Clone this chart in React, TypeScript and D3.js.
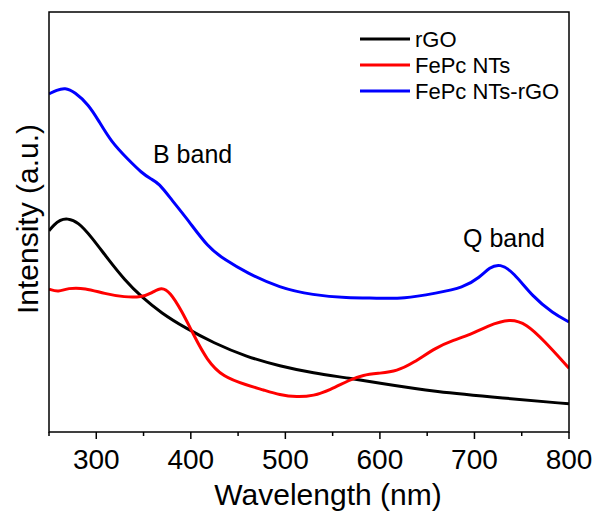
import React from "react";
import * as d3 from "d3";

// wavelength (nm) / intensity (a.u.)
const rgoWl = [250, 255, 262, 269, 281, 295, 313, 330, 348, 369, 394, 424, 459, 494, 530, 565, 597, 660, 730, 800];
const rgoI = [47.9, 49.3, 50.5, 50.9, 50.0, 46.4, 41.0, 36.2, 32.1, 28.3, 24.8, 21.2, 17.9, 15.7, 14.0, 12.9, 11.7, 9.5, 8.1, 6.7];

const fepcWl = [250, 260, 270, 288, 309, 330, 348, 359, 369, 378, 390, 403, 417, 434, 459, 477, 494, 512, 530, 547, 568, 582, 600, 618, 635, 660, 678, 695, 713, 738, 755, 773, 800];
const fepcI = [34.0, 33.3, 34.3, 34.3, 32.9, 32.1, 32.1, 33.1, 34.6, 33.3, 29.0, 23.1, 17.1, 13.1, 11.2, 10.0, 8.8, 8.3, 8.6, 10.0, 12.4, 13.6, 14.0, 14.5, 16.4, 20.2, 21.9, 23.1, 25.2, 27.1, 25.7, 21.9, 15.2];

const compWl = [250, 258, 267, 277, 292, 302, 316, 334, 348, 358, 366, 380, 397, 418, 436, 459, 494, 529, 565, 597, 625, 660, 688, 706, 716, 727, 741, 762, 783, 800];
const compI = [80.5, 81.4, 82.0, 81.0, 77.9, 74.3, 69.0, 64.8, 61.7, 60.2, 59.3, 55.2, 50.5, 44.0, 41.0, 37.9, 34.3, 32.6, 31.9, 31.9, 31.7, 33.1, 34.3, 36.9, 39.2, 40.1, 38.1, 32.1, 28.3, 26.2];

const seriesNames = ["rGO", "FePc NTs", "FePc NTs-rGO"];
const seriesColors = ["#000000", "#ff0000", "#0000ff"];
const majorTicks = [300, 400, 500, 600, 700, 800];
const minorTicks = [250, 350, 450, 550, 650, 750];

const W = 598;
const H = 516;
const m = { left: 49, top: 12, right: 569, bottom: 432 };
const font = "'Liberation Sans', Arial, sans-serif";

export default function App() {
  const x = d3.scaleLinear().domain([250, 800]).range([m.left, m.right]);
  const y = d3.scaleLinear().domain([0, 100]).range([m.bottom, m.top]);
  const line = d3
    .line<[number, number]>()
    .x((d) => x(d[0]))
    .y((d) => y(d[1]))
    .curve(d3.curveBasis);

  const data: [number, number][][] = [
    rgoWl.map((w, i) => [w, rgoI[i]]),
    fepcWl.map((w, i) => [w, fepcI[i]]),
    compWl.map((w, i) => [w, compI[i]]),
  ];

  return (
    <svg
      width={W}
      height={H}
      style={{ position: "absolute", left: 0, top: 0, background: "#fff" }}
      fontFamily={font}
    >
      <defs>
        <clipPath id="plotclip">
          <rect x={m.left} y={m.top} width={m.right - m.left} height={m.bottom - m.top} />
        </clipPath>
      </defs>
      <g clipPath="url(#plotclip)">
        {data.map((d, i) => (
          <path key={i} d={line(d) || ""} fill="none" stroke={seriesColors[i]} strokeWidth={3} strokeLinejoin="round" />
        ))}
      </g>
      <rect
        x={m.left}
        y={m.top}
        width={m.right - m.left}
        height={m.bottom - m.top}
        fill="none"
        stroke="#000"
        strokeWidth={1.5}
      />
      {majorTicks.map((t) => (
        <g key={t}>
          <line x1={x(t)} x2={x(t)} y1={m.bottom} y2={m.bottom + 7} stroke="#000" strokeWidth={1.5} />
          <text x={x(t)} y={469} fontSize={28} textAnchor="middle" fill="#000">
            {t}
          </text>
        </g>
      ))}
      {minorTicks.map((t) => (
        <line key={t} x1={x(t)} x2={x(t)} y1={m.bottom} y2={m.bottom + 4} stroke="#000" strokeWidth={1.5} />
      ))}
      <text x={328} y={505} fontSize={30} textAnchor="middle" fill="#000">
        Wavelength (nm)
      </text>
      <text
        transform={`translate(38,219) rotate(-90)`}
        fontSize={30}
        textAnchor="middle"
        fill="#000"
      >
        Intensity (a.u.)
      </text>
      <text x={153} y={163} fontSize={25} fill="#000">
        B band
      </text>
      <text x={463} y={247} fontSize={25} fill="#000">
        Q band
      </text>
      {seriesNames.map((n, i) => (
        <g key={n}>
          <line x1={360} x2={410} y1={39 + i * 26} y2={39 + i * 26} stroke={seriesColors[i]} strokeWidth={3} />
          <text x={415} y={39 + i * 26 + 8} fontSize={22} fill="#000">
            {n}
          </text>
        </g>
      ))}
    </svg>
  );
}
